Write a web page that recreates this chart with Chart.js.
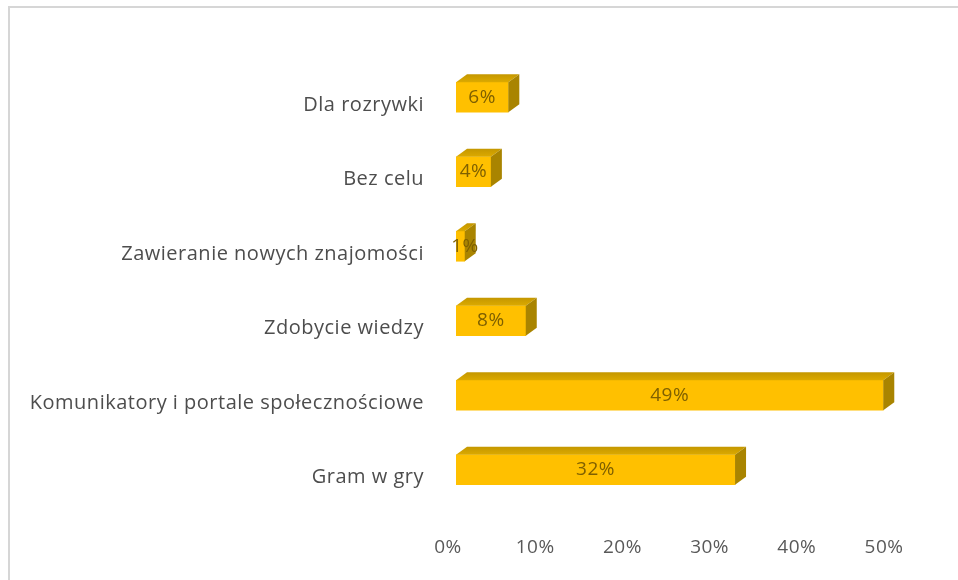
<!DOCTYPE html>
<html>
<head>
<meta charset="utf-8">
<script src="https://cdn.jsdelivr.net/npm/chart.js@4"></script>
<style>
  html, body { margin: 0; padding: 0; background: #fff; }
  #wrap { position: relative; width: 958px; height: 580px; }
</style>
</head>
<body>
<div id="wrap"><canvas id="purposeChart"></canvas></div>
<script>
// Purposes of internet use (share of answers, %)
const categories = [
  'Dla rozrywki',
  'Bez celu',
  'Zawieranie nowych znajomości',
  'Zdobycie wiedzy',
  'Komunikatory i portale społecznościowe',
  'Gram w gry'
];
const shares = [6, 4, 1, 8, 49, 32];
const tickValues = [0, 10, 20, 30, 40, 50];

const depthX = 11;   // 3D depth offset of the bars
const depthY = 8;
const fontFamily = '"Open Sans", Lato, sans-serif';

// Outer frame of the chart object; also widens letter spacing of all text
const framePlugin = {
  id: 'frame',
  beforeDraw(chart) {
    const ctx = chart.ctx;
    ctx.letterSpacing = '0.5px';
    ctx.save();
    ctx.strokeStyle = '#d6d6d6';
    ctx.lineWidth = 2;
    ctx.beginPath();
    ctx.moveTo(9, chart.height);
    ctx.lineTo(9, 7);
    ctx.lineTo(chart.width, 7);
    ctx.stroke();
    ctx.restore();
  }
};

// Top and side faces of the bars, plus value labels on the front face
const bars3dPlugin = {
  id: 'bars3d',
  afterDatasetsDraw(chart) {
    const ctx = chart.ctx;
    const meta = chart.getDatasetMeta(0);
    ctx.save();
    meta.data.forEach((bar, i) => {
      const { x, y, base, height } = bar.getProps(['x', 'y', 'base', 'height'], true);
      const top = y - height / 2;
      const bottom = y + height / 2;

      // top face
      const gTop = ctx.createLinearGradient(0, top - depthY, 0, top);
      gTop.addColorStop(0, '#c49700');
      gTop.addColorStop(1, '#dcaa00');
      ctx.fillStyle = gTop;
      ctx.beginPath();
      ctx.moveTo(base, top);
      ctx.lineTo(base + depthX, top - depthY);
      ctx.lineTo(x + depthX, top - depthY);
      ctx.lineTo(x, top);
      ctx.closePath();
      ctx.fill();

      // side face
      ctx.fillStyle = '#a98400';
      ctx.beginPath();
      ctx.moveTo(x, top);
      ctx.lineTo(x + depthX, top - depthY);
      ctx.lineTo(x + depthX, bottom - depthY);
      ctx.lineTo(x, bottom);
      ctx.closePath();
      ctx.fill();

      // value label
      ctx.fillStyle = '#7f6000';
      ctx.font = '19px ' + fontFamily;
      ctx.textAlign = 'center';
      ctx.textBaseline = 'middle';
      const cx = Math.max((base + x) / 2, base + 9);
      ctx.fillText(shares[i] + '%', cx, y);
    });
    ctx.restore();
  }
};

const ctx = document.getElementById('purposeChart').getContext('2d');
new Chart(ctx, {
  type: 'bar',
  data: {
    labels: categories,
    datasets: [
      {
        data: shares,
        backgroundColor: '#ffc000',
        borderWidth: 0,
        barThickness: 30
      }
    ]
  },
  options: {
    indexAxis: 'y',
    responsive: true,
    maintainAspectRatio: false,
    animation: false,
    layout: {
      padding: { top: 60, right: 66, bottom: 0, left: 0 }
    },
    plugins: {
      legend: { display: false },
      tooltip: { enabled: false }
    },
    scales: {
      x: {
        min: 0,
        max: 50,
        afterBuildTicks(scale) {
          scale.ticks = tickValues.map(v => ({ value: v }));
        },
        afterFit(scale) {
          scale.height = 73;
        },
        grid: { display: false, drawTicks: false },
        border: { display: false },
        ticks: {
          padding: 29,
          labelOffset: -8,
          color: '#595959',
          font: { family: fontFamily, size: 19 },
          callback: v => v + '%'
        }
      },
      y: {
        afterFit(scale) {
          scale.width = 456;
        },
        grid: { display: false, drawTicks: false },
        border: { display: false },
        ticks: {
          padding: 32,
          labelOffset: 8,
          color: '#4d4d4d',
          font: { family: fontFamily, size: 20 }
        }
      }
    }
  },
  plugins: [framePlugin, bars3dPlugin]
});
</script>
</body>
</html>
